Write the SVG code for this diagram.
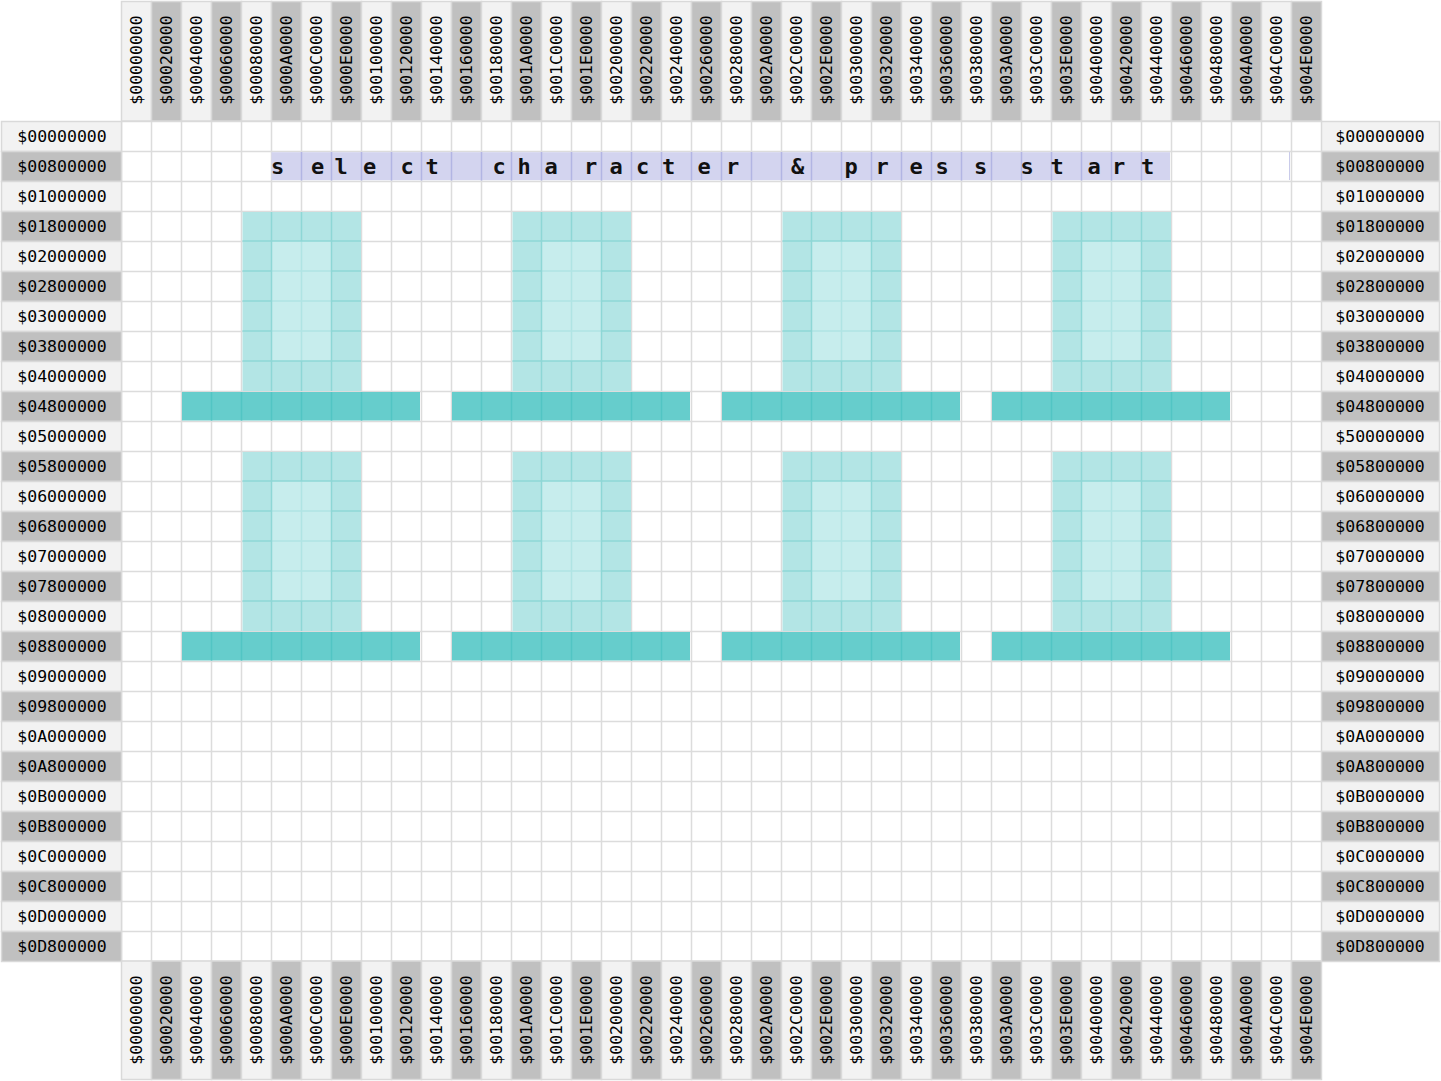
<svg xmlns="http://www.w3.org/2000/svg" width="1441" height="1081" viewBox="0 0 1441 1081">
<style>
.hl{fill:#f2f2f2;stroke:#d9d9d9;stroke-width:1.5}
.hd{fill:#c0c0c0;stroke:#d9d9d9;stroke-width:1.5}
.lb{font-family:"DejaVu Sans Mono","Liberation Mono",monospace;font-size:16.5px;fill:#000;text-anchor:middle}
.ch{font-family:"DejaVu Sans Mono","Liberation Mono",monospace;font-size:22px;font-weight:bold;fill:#111;text-anchor:middle}
.grid{fill:none;stroke:#dcdcdc;stroke-width:1.5}
</style>
<defs>
<g id="fig">
<rect x="1" y="1" width="118.5" height="179" fill="#b3e5e5"/>
<rect x="30" y="30" width="60" height="120" fill="#c7eded"/>
<path d="M60 30v120M30 60h60M30 90h60M30 120h60" stroke="#b0e4e4" stroke-width="1.5" fill="none"/>
<path d="M30 1v179M90 1v179M60 1v29M60 150v30M1 30h118.5M1 150h118.5M1 60h29M90 60h29.5M1 90h29M90 90h29.5M1 120h29M90 120h29.5" stroke="#8ed7d6" stroke-width="1.5" fill="none"/>
<rect x="-59.5" y="181" width="238" height="28.5" fill="#66cdcc"/>
<path d="M-30 181v28.5M0 181v28.5M30 181v28.5M60 181v28.5M90 181v28.5M120 181v28.5M150 181v28.5" stroke="#52c5c4" stroke-width="1.5" fill="none"/>
</g>
</defs>
<rect width="1441" height="1081" fill="#fff"/>
<g id="grid">
<path class="grid" d="M121.5 121v840m30 -840v840m30 -840v840m30 -840v840m30 -840v840m30 -840v840m30 -840v840m30 -840v840m30 -840v840m30 -840v840m30 -840v840m30 -840v840m30 -840v840m30 -840v840m30 -840v840m30 -840v840m30 -840v840m30 -840v840m30 -840v840m30 -840v840m30 -840v840m30 -840v840m30 -840v840m30 -840v840m30 -840v840m30 -840v840m30 -840v840m30 -840v840m30 -840v840m30 -840v840m30 -840v840m30 -840v840m30 -840v840m30 -840v840m30 -840v840m30 -840v840m30 -840v840m30 -840v840m30 -840v840m30 -840v840"/>
<path class="grid" d="M121.5 121.5h1200m-1200 30h1200m-1200 30h1200m-1200 30h1200m-1200 30h1200m-1200 30h1200m-1200 30h1200m-1200 30h1200m-1200 30h1200m-1200 30h1200m-1200 30h1200m-1200 30h1200m-1200 30h1200m-1200 30h1200m-1200 30h1200m-1200 30h1200m-1200 30h1200m-1200 30h1200m-1200 30h1200m-1200 30h1200m-1200 30h1200m-1200 30h1200m-1200 30h1200m-1200 30h1200m-1200 30h1200m-1200 30h1200m-1200 30h1200m-1200 30h1200m-1200 30h1200"/>
</g>
<g id="title-row">
<rect x="271.5" y="152.2" width="898.5" height="28" fill="#d3d4ef"/>
<path d="M301.5 152v28.5M331.5 152v28.5M361.5 152v28.5M391.5 152v28.5M421.5 152v28.5M451.5 152v28.5M481.5 152v28.5M511.5 152v28.5M541.5 152v28.5M571.5 152v28.5M601.5 152v28.5M631.5 152v28.5M661.5 152v28.5M691.5 152v28.5M721.5 152v28.5M751.5 152v28.5M781.5 152v28.5M811.5 152v28.5M841.5 152v28.5M871.5 152v28.5M901.5 152v28.5M931.5 152v28.5M961.5 152v28.5M991.5 152v28.5M1021.5 152v28.5M1051.5 152v28.5M1081.5 152v28.5M1111.5 152v28.5M1141.5 152v28.5" stroke="#b2b5e3" stroke-width="1.5" fill="none"/>
<path d="M1289.5 152v28" stroke="#c9cbea" stroke-width="1"/>
<text class="ch" x="277.5" y="174">s</text>
<text class="ch" x="317.5" y="174">e</text>
<text class="ch" x="341" y="174">l</text>
<text class="ch" x="369.5" y="174">e</text>
<text class="ch" x="407" y="174">c</text>
<text class="ch" x="432" y="174">t</text>
<text class="ch" x="499" y="174">c</text>
<text class="ch" x="524" y="174">h</text>
<text class="ch" x="551" y="174">a</text>
<text class="ch" x="590.5" y="174">r</text>
<text class="ch" x="616" y="174">a</text>
<text class="ch" x="642.5" y="174">c</text>
<text class="ch" x="668.5" y="174">t</text>
<text class="ch" x="704" y="174">e</text>
<text class="ch" x="732.5" y="174">r</text>
<text class="ch" x="797.5" y="174">&amp;</text>
<text class="ch" x="851" y="174">p</text>
<text class="ch" x="882" y="174">r</text>
<text class="ch" x="916" y="174">e</text>
<text class="ch" x="942" y="174">s</text>
<text class="ch" x="980.5" y="174">s</text>
<text class="ch" x="1027" y="174">s</text>
<text class="ch" x="1057" y="174">t</text>
<text class="ch" x="1094" y="174">a</text>
<text class="ch" x="1118.5" y="174">r</text>
<text class="ch" x="1147.5" y="174">t</text>
</g>
<g id="figures">
<use href="#fig" x="241.5" y="211"/>
<use href="#fig" x="511.5" y="211"/>
<use href="#fig" x="781.5" y="211"/>
<use href="#fig" x="1051.5" y="211"/>
<use href="#fig" x="241.5" y="451"/>
<use href="#fig" x="511.5" y="451"/>
<use href="#fig" x="781.5" y="451"/>
<use href="#fig" x="1051.5" y="451"/>
</g>
<g id="top-header">
<rect class="hl" x="121.5" y="1.5" width="30" height="119.5"/><rect class="hd" x="151.5" y="1.5" width="30" height="119.5"/><rect class="hl" x="181.5" y="1.5" width="30" height="119.5"/><rect class="hd" x="211.5" y="1.5" width="30" height="119.5"/><rect class="hl" x="241.5" y="1.5" width="30" height="119.5"/><rect class="hd" x="271.5" y="1.5" width="30" height="119.5"/><rect class="hl" x="301.5" y="1.5" width="30" height="119.5"/><rect class="hd" x="331.5" y="1.5" width="30" height="119.5"/><rect class="hl" x="361.5" y="1.5" width="30" height="119.5"/><rect class="hd" x="391.5" y="1.5" width="30" height="119.5"/><rect class="hl" x="421.5" y="1.5" width="30" height="119.5"/><rect class="hd" x="451.5" y="1.5" width="30" height="119.5"/><rect class="hl" x="481.5" y="1.5" width="30" height="119.5"/><rect class="hd" x="511.5" y="1.5" width="30" height="119.5"/><rect class="hl" x="541.5" y="1.5" width="30" height="119.5"/><rect class="hd" x="571.5" y="1.5" width="30" height="119.5"/><rect class="hl" x="601.5" y="1.5" width="30" height="119.5"/><rect class="hd" x="631.5" y="1.5" width="30" height="119.5"/><rect class="hl" x="661.5" y="1.5" width="30" height="119.5"/><rect class="hd" x="691.5" y="1.5" width="30" height="119.5"/><rect class="hl" x="721.5" y="1.5" width="30" height="119.5"/><rect class="hd" x="751.5" y="1.5" width="30" height="119.5"/><rect class="hl" x="781.5" y="1.5" width="30" height="119.5"/><rect class="hd" x="811.5" y="1.5" width="30" height="119.5"/><rect class="hl" x="841.5" y="1.5" width="30" height="119.5"/><rect class="hd" x="871.5" y="1.5" width="30" height="119.5"/><rect class="hl" x="901.5" y="1.5" width="30" height="119.5"/><rect class="hd" x="931.5" y="1.5" width="30" height="119.5"/><rect class="hl" x="961.5" y="1.5" width="30" height="119.5"/><rect class="hd" x="991.5" y="1.5" width="30" height="119.5"/><rect class="hl" x="1021.5" y="1.5" width="30" height="119.5"/><rect class="hd" x="1051.5" y="1.5" width="30" height="119.5"/><rect class="hl" x="1081.5" y="1.5" width="30" height="119.5"/><rect class="hd" x="1111.5" y="1.5" width="30" height="119.5"/><rect class="hl" x="1141.5" y="1.5" width="30" height="119.5"/><rect class="hd" x="1171.5" y="1.5" width="30" height="119.5"/><rect class="hl" x="1201.5" y="1.5" width="30" height="119.5"/><rect class="hd" x="1231.5" y="1.5" width="30" height="119.5"/><rect class="hl" x="1261.5" y="1.5" width="30" height="119.5"/><rect class="hd" x="1291.5" y="1.5" width="30" height="119.5"/>
<text class="lb" transform="translate(136.5 60) rotate(-90)" dy=".35em">$00000000</text>
<text class="lb" transform="translate(166.5 60) rotate(-90)" dy=".35em">$00020000</text>
<text class="lb" transform="translate(196.5 60) rotate(-90)" dy=".35em">$00040000</text>
<text class="lb" transform="translate(226.5 60) rotate(-90)" dy=".35em">$00060000</text>
<text class="lb" transform="translate(256.5 60) rotate(-90)" dy=".35em">$00080000</text>
<text class="lb" transform="translate(286.5 60) rotate(-90)" dy=".35em">$000A0000</text>
<text class="lb" transform="translate(316.5 60) rotate(-90)" dy=".35em">$000C0000</text>
<text class="lb" transform="translate(346.5 60) rotate(-90)" dy=".35em">$000E0000</text>
<text class="lb" transform="translate(376.5 60) rotate(-90)" dy=".35em">$00100000</text>
<text class="lb" transform="translate(406.5 60) rotate(-90)" dy=".35em">$00120000</text>
<text class="lb" transform="translate(436.5 60) rotate(-90)" dy=".35em">$00140000</text>
<text class="lb" transform="translate(466.5 60) rotate(-90)" dy=".35em">$00160000</text>
<text class="lb" transform="translate(496.5 60) rotate(-90)" dy=".35em">$00180000</text>
<text class="lb" transform="translate(526.5 60) rotate(-90)" dy=".35em">$001A0000</text>
<text class="lb" transform="translate(556.5 60) rotate(-90)" dy=".35em">$001C0000</text>
<text class="lb" transform="translate(586.5 60) rotate(-90)" dy=".35em">$001E0000</text>
<text class="lb" transform="translate(616.5 60) rotate(-90)" dy=".35em">$00200000</text>
<text class="lb" transform="translate(646.5 60) rotate(-90)" dy=".35em">$00220000</text>
<text class="lb" transform="translate(676.5 60) rotate(-90)" dy=".35em">$00240000</text>
<text class="lb" transform="translate(706.5 60) rotate(-90)" dy=".35em">$00260000</text>
<text class="lb" transform="translate(736.5 60) rotate(-90)" dy=".35em">$00280000</text>
<text class="lb" transform="translate(766.5 60) rotate(-90)" dy=".35em">$002A0000</text>
<text class="lb" transform="translate(796.5 60) rotate(-90)" dy=".35em">$002C0000</text>
<text class="lb" transform="translate(826.5 60) rotate(-90)" dy=".35em">$002E0000</text>
<text class="lb" transform="translate(856.5 60) rotate(-90)" dy=".35em">$00300000</text>
<text class="lb" transform="translate(886.5 60) rotate(-90)" dy=".35em">$00320000</text>
<text class="lb" transform="translate(916.5 60) rotate(-90)" dy=".35em">$00340000</text>
<text class="lb" transform="translate(946.5 60) rotate(-90)" dy=".35em">$00360000</text>
<text class="lb" transform="translate(976.5 60) rotate(-90)" dy=".35em">$00380000</text>
<text class="lb" transform="translate(1006.5 60) rotate(-90)" dy=".35em">$003A0000</text>
<text class="lb" transform="translate(1036.5 60) rotate(-90)" dy=".35em">$003C0000</text>
<text class="lb" transform="translate(1066.5 60) rotate(-90)" dy=".35em">$003E0000</text>
<text class="lb" transform="translate(1096.5 60) rotate(-90)" dy=".35em">$00400000</text>
<text class="lb" transform="translate(1126.5 60) rotate(-90)" dy=".35em">$00420000</text>
<text class="lb" transform="translate(1156.5 60) rotate(-90)" dy=".35em">$00440000</text>
<text class="lb" transform="translate(1186.5 60) rotate(-90)" dy=".35em">$00460000</text>
<text class="lb" transform="translate(1216.5 60) rotate(-90)" dy=".35em">$00480000</text>
<text class="lb" transform="translate(1246.5 60) rotate(-90)" dy=".35em">$004A0000</text>
<text class="lb" transform="translate(1276.5 60) rotate(-90)" dy=".35em">$004C0000</text>
<text class="lb" transform="translate(1306.5 60) rotate(-90)" dy=".35em">$004E0000</text>
</g>
<g id="bottom-header">
<rect class="hl" x="121.5" y="961" width="30" height="118.5"/><rect class="hd" x="151.5" y="961" width="30" height="118.5"/><rect class="hl" x="181.5" y="961" width="30" height="118.5"/><rect class="hd" x="211.5" y="961" width="30" height="118.5"/><rect class="hl" x="241.5" y="961" width="30" height="118.5"/><rect class="hd" x="271.5" y="961" width="30" height="118.5"/><rect class="hl" x="301.5" y="961" width="30" height="118.5"/><rect class="hd" x="331.5" y="961" width="30" height="118.5"/><rect class="hl" x="361.5" y="961" width="30" height="118.5"/><rect class="hd" x="391.5" y="961" width="30" height="118.5"/><rect class="hl" x="421.5" y="961" width="30" height="118.5"/><rect class="hd" x="451.5" y="961" width="30" height="118.5"/><rect class="hl" x="481.5" y="961" width="30" height="118.5"/><rect class="hd" x="511.5" y="961" width="30" height="118.5"/><rect class="hl" x="541.5" y="961" width="30" height="118.5"/><rect class="hd" x="571.5" y="961" width="30" height="118.5"/><rect class="hl" x="601.5" y="961" width="30" height="118.5"/><rect class="hd" x="631.5" y="961" width="30" height="118.5"/><rect class="hl" x="661.5" y="961" width="30" height="118.5"/><rect class="hd" x="691.5" y="961" width="30" height="118.5"/><rect class="hl" x="721.5" y="961" width="30" height="118.5"/><rect class="hd" x="751.5" y="961" width="30" height="118.5"/><rect class="hl" x="781.5" y="961" width="30" height="118.5"/><rect class="hd" x="811.5" y="961" width="30" height="118.5"/><rect class="hl" x="841.5" y="961" width="30" height="118.5"/><rect class="hd" x="871.5" y="961" width="30" height="118.5"/><rect class="hl" x="901.5" y="961" width="30" height="118.5"/><rect class="hd" x="931.5" y="961" width="30" height="118.5"/><rect class="hl" x="961.5" y="961" width="30" height="118.5"/><rect class="hd" x="991.5" y="961" width="30" height="118.5"/><rect class="hl" x="1021.5" y="961" width="30" height="118.5"/><rect class="hd" x="1051.5" y="961" width="30" height="118.5"/><rect class="hl" x="1081.5" y="961" width="30" height="118.5"/><rect class="hd" x="1111.5" y="961" width="30" height="118.5"/><rect class="hl" x="1141.5" y="961" width="30" height="118.5"/><rect class="hd" x="1171.5" y="961" width="30" height="118.5"/><rect class="hl" x="1201.5" y="961" width="30" height="118.5"/><rect class="hd" x="1231.5" y="961" width="30" height="118.5"/><rect class="hl" x="1261.5" y="961" width="30" height="118.5"/><rect class="hd" x="1291.5" y="961" width="30" height="118.5"/>
<text class="lb" transform="translate(136.5 1020) rotate(-90)" dy=".35em">$00000000</text>
<text class="lb" transform="translate(166.5 1020) rotate(-90)" dy=".35em">$00020000</text>
<text class="lb" transform="translate(196.5 1020) rotate(-90)" dy=".35em">$00040000</text>
<text class="lb" transform="translate(226.5 1020) rotate(-90)" dy=".35em">$00060000</text>
<text class="lb" transform="translate(256.5 1020) rotate(-90)" dy=".35em">$00080000</text>
<text class="lb" transform="translate(286.5 1020) rotate(-90)" dy=".35em">$000A0000</text>
<text class="lb" transform="translate(316.5 1020) rotate(-90)" dy=".35em">$000C0000</text>
<text class="lb" transform="translate(346.5 1020) rotate(-90)" dy=".35em">$000E0000</text>
<text class="lb" transform="translate(376.5 1020) rotate(-90)" dy=".35em">$00100000</text>
<text class="lb" transform="translate(406.5 1020) rotate(-90)" dy=".35em">$00120000</text>
<text class="lb" transform="translate(436.5 1020) rotate(-90)" dy=".35em">$00140000</text>
<text class="lb" transform="translate(466.5 1020) rotate(-90)" dy=".35em">$00160000</text>
<text class="lb" transform="translate(496.5 1020) rotate(-90)" dy=".35em">$00180000</text>
<text class="lb" transform="translate(526.5 1020) rotate(-90)" dy=".35em">$001A0000</text>
<text class="lb" transform="translate(556.5 1020) rotate(-90)" dy=".35em">$001C0000</text>
<text class="lb" transform="translate(586.5 1020) rotate(-90)" dy=".35em">$001E0000</text>
<text class="lb" transform="translate(616.5 1020) rotate(-90)" dy=".35em">$00200000</text>
<text class="lb" transform="translate(646.5 1020) rotate(-90)" dy=".35em">$00220000</text>
<text class="lb" transform="translate(676.5 1020) rotate(-90)" dy=".35em">$00240000</text>
<text class="lb" transform="translate(706.5 1020) rotate(-90)" dy=".35em">$00260000</text>
<text class="lb" transform="translate(736.5 1020) rotate(-90)" dy=".35em">$00280000</text>
<text class="lb" transform="translate(766.5 1020) rotate(-90)" dy=".35em">$002A0000</text>
<text class="lb" transform="translate(796.5 1020) rotate(-90)" dy=".35em">$002C0000</text>
<text class="lb" transform="translate(826.5 1020) rotate(-90)" dy=".35em">$002E0000</text>
<text class="lb" transform="translate(856.5 1020) rotate(-90)" dy=".35em">$00300000</text>
<text class="lb" transform="translate(886.5 1020) rotate(-90)" dy=".35em">$00320000</text>
<text class="lb" transform="translate(916.5 1020) rotate(-90)" dy=".35em">$00340000</text>
<text class="lb" transform="translate(946.5 1020) rotate(-90)" dy=".35em">$00360000</text>
<text class="lb" transform="translate(976.5 1020) rotate(-90)" dy=".35em">$00380000</text>
<text class="lb" transform="translate(1006.5 1020) rotate(-90)" dy=".35em">$003A0000</text>
<text class="lb" transform="translate(1036.5 1020) rotate(-90)" dy=".35em">$003C0000</text>
<text class="lb" transform="translate(1066.5 1020) rotate(-90)" dy=".35em">$003E0000</text>
<text class="lb" transform="translate(1096.5 1020) rotate(-90)" dy=".35em">$00400000</text>
<text class="lb" transform="translate(1126.5 1020) rotate(-90)" dy=".35em">$00420000</text>
<text class="lb" transform="translate(1156.5 1020) rotate(-90)" dy=".35em">$00440000</text>
<text class="lb" transform="translate(1186.5 1020) rotate(-90)" dy=".35em">$00460000</text>
<text class="lb" transform="translate(1216.5 1020) rotate(-90)" dy=".35em">$00480000</text>
<text class="lb" transform="translate(1246.5 1020) rotate(-90)" dy=".35em">$004A0000</text>
<text class="lb" transform="translate(1276.5 1020) rotate(-90)" dy=".35em">$004C0000</text>
<text class="lb" transform="translate(1306.5 1020) rotate(-90)" dy=".35em">$004E0000</text>
</g>
<g id="left-header">
<rect class="hl" x="1.5" y="121.5" width="120" height="30"/><rect class="hd" x="1.5" y="151.5" width="120" height="30"/><rect class="hl" x="1.5" y="181.5" width="120" height="30"/><rect class="hd" x="1.5" y="211.5" width="120" height="30"/><rect class="hl" x="1.5" y="241.5" width="120" height="30"/><rect class="hd" x="1.5" y="271.5" width="120" height="30"/><rect class="hl" x="1.5" y="301.5" width="120" height="30"/><rect class="hd" x="1.5" y="331.5" width="120" height="30"/><rect class="hl" x="1.5" y="361.5" width="120" height="30"/><rect class="hd" x="1.5" y="391.5" width="120" height="30"/><rect class="hl" x="1.5" y="421.5" width="120" height="30"/><rect class="hd" x="1.5" y="451.5" width="120" height="30"/><rect class="hl" x="1.5" y="481.5" width="120" height="30"/><rect class="hd" x="1.5" y="511.5" width="120" height="30"/><rect class="hl" x="1.5" y="541.5" width="120" height="30"/><rect class="hd" x="1.5" y="571.5" width="120" height="30"/><rect class="hl" x="1.5" y="601.5" width="120" height="30"/><rect class="hd" x="1.5" y="631.5" width="120" height="30"/><rect class="hl" x="1.5" y="661.5" width="120" height="30"/><rect class="hd" x="1.5" y="691.5" width="120" height="30"/><rect class="hl" x="1.5" y="721.5" width="120" height="30"/><rect class="hd" x="1.5" y="751.5" width="120" height="30"/><rect class="hl" x="1.5" y="781.5" width="120" height="30"/><rect class="hd" x="1.5" y="811.5" width="120" height="30"/><rect class="hl" x="1.5" y="841.5" width="120" height="30"/><rect class="hd" x="1.5" y="871.5" width="120" height="30"/><rect class="hl" x="1.5" y="901.5" width="120" height="30"/><rect class="hd" x="1.5" y="931.5" width="120" height="30"/>
<text class="lb" x="62" y="136.5" dy=".35em">$00000000</text>
<text class="lb" x="62" y="166.5" dy=".35em">$00800000</text>
<text class="lb" x="62" y="196.5" dy=".35em">$01000000</text>
<text class="lb" x="62" y="226.5" dy=".35em">$01800000</text>
<text class="lb" x="62" y="256.5" dy=".35em">$02000000</text>
<text class="lb" x="62" y="286.5" dy=".35em">$02800000</text>
<text class="lb" x="62" y="316.5" dy=".35em">$03000000</text>
<text class="lb" x="62" y="346.5" dy=".35em">$03800000</text>
<text class="lb" x="62" y="376.5" dy=".35em">$04000000</text>
<text class="lb" x="62" y="406.5" dy=".35em">$04800000</text>
<text class="lb" x="62" y="436.5" dy=".35em">$05000000</text>
<text class="lb" x="62" y="466.5" dy=".35em">$05800000</text>
<text class="lb" x="62" y="496.5" dy=".35em">$06000000</text>
<text class="lb" x="62" y="526.5" dy=".35em">$06800000</text>
<text class="lb" x="62" y="556.5" dy=".35em">$07000000</text>
<text class="lb" x="62" y="586.5" dy=".35em">$07800000</text>
<text class="lb" x="62" y="616.5" dy=".35em">$08000000</text>
<text class="lb" x="62" y="646.5" dy=".35em">$08800000</text>
<text class="lb" x="62" y="676.5" dy=".35em">$09000000</text>
<text class="lb" x="62" y="706.5" dy=".35em">$09800000</text>
<text class="lb" x="62" y="736.5" dy=".35em">$0A000000</text>
<text class="lb" x="62" y="766.5" dy=".35em">$0A800000</text>
<text class="lb" x="62" y="796.5" dy=".35em">$0B000000</text>
<text class="lb" x="62" y="826.5" dy=".35em">$0B800000</text>
<text class="lb" x="62" y="856.5" dy=".35em">$0C000000</text>
<text class="lb" x="62" y="886.5" dy=".35em">$0C800000</text>
<text class="lb" x="62" y="916.5" dy=".35em">$0D000000</text>
<text class="lb" x="62" y="946.5" dy=".35em">$0D800000</text>
</g>
<g id="right-header">
<rect class="hl" x="1321.5" y="121.5" width="118" height="30"/><rect class="hd" x="1321.5" y="151.5" width="118" height="30"/><rect class="hl" x="1321.5" y="181.5" width="118" height="30"/><rect class="hd" x="1321.5" y="211.5" width="118" height="30"/><rect class="hl" x="1321.5" y="241.5" width="118" height="30"/><rect class="hd" x="1321.5" y="271.5" width="118" height="30"/><rect class="hl" x="1321.5" y="301.5" width="118" height="30"/><rect class="hd" x="1321.5" y="331.5" width="118" height="30"/><rect class="hl" x="1321.5" y="361.5" width="118" height="30"/><rect class="hd" x="1321.5" y="391.5" width="118" height="30"/><rect class="hl" x="1321.5" y="421.5" width="118" height="30"/><rect class="hd" x="1321.5" y="451.5" width="118" height="30"/><rect class="hl" x="1321.5" y="481.5" width="118" height="30"/><rect class="hd" x="1321.5" y="511.5" width="118" height="30"/><rect class="hl" x="1321.5" y="541.5" width="118" height="30"/><rect class="hd" x="1321.5" y="571.5" width="118" height="30"/><rect class="hl" x="1321.5" y="601.5" width="118" height="30"/><rect class="hd" x="1321.5" y="631.5" width="118" height="30"/><rect class="hl" x="1321.5" y="661.5" width="118" height="30"/><rect class="hd" x="1321.5" y="691.5" width="118" height="30"/><rect class="hl" x="1321.5" y="721.5" width="118" height="30"/><rect class="hd" x="1321.5" y="751.5" width="118" height="30"/><rect class="hl" x="1321.5" y="781.5" width="118" height="30"/><rect class="hd" x="1321.5" y="811.5" width="118" height="30"/><rect class="hl" x="1321.5" y="841.5" width="118" height="30"/><rect class="hd" x="1321.5" y="871.5" width="118" height="30"/><rect class="hl" x="1321.5" y="901.5" width="118" height="30"/><rect class="hd" x="1321.5" y="931.5" width="118" height="30"/>
<text class="lb" x="1380" y="136.5" dy=".35em">$00000000</text>
<text class="lb" x="1380" y="166.5" dy=".35em">$00800000</text>
<text class="lb" x="1380" y="196.5" dy=".35em">$01000000</text>
<text class="lb" x="1380" y="226.5" dy=".35em">$01800000</text>
<text class="lb" x="1380" y="256.5" dy=".35em">$02000000</text>
<text class="lb" x="1380" y="286.5" dy=".35em">$02800000</text>
<text class="lb" x="1380" y="316.5" dy=".35em">$03000000</text>
<text class="lb" x="1380" y="346.5" dy=".35em">$03800000</text>
<text class="lb" x="1380" y="376.5" dy=".35em">$04000000</text>
<text class="lb" x="1380" y="406.5" dy=".35em">$04800000</text>
<text class="lb" x="1380" y="436.5" dy=".35em">$50000000</text>
<text class="lb" x="1380" y="466.5" dy=".35em">$05800000</text>
<text class="lb" x="1380" y="496.5" dy=".35em">$06000000</text>
<text class="lb" x="1380" y="526.5" dy=".35em">$06800000</text>
<text class="lb" x="1380" y="556.5" dy=".35em">$07000000</text>
<text class="lb" x="1380" y="586.5" dy=".35em">$07800000</text>
<text class="lb" x="1380" y="616.5" dy=".35em">$08000000</text>
<text class="lb" x="1380" y="646.5" dy=".35em">$08800000</text>
<text class="lb" x="1380" y="676.5" dy=".35em">$09000000</text>
<text class="lb" x="1380" y="706.5" dy=".35em">$09800000</text>
<text class="lb" x="1380" y="736.5" dy=".35em">$0A000000</text>
<text class="lb" x="1380" y="766.5" dy=".35em">$0A800000</text>
<text class="lb" x="1380" y="796.5" dy=".35em">$0B000000</text>
<text class="lb" x="1380" y="826.5" dy=".35em">$0B800000</text>
<text class="lb" x="1380" y="856.5" dy=".35em">$0C000000</text>
<text class="lb" x="1380" y="886.5" dy=".35em">$0C800000</text>
<text class="lb" x="1380" y="916.5" dy=".35em">$0D000000</text>
<text class="lb" x="1380" y="946.5" dy=".35em">$0D800000</text>
</g>
</svg>
